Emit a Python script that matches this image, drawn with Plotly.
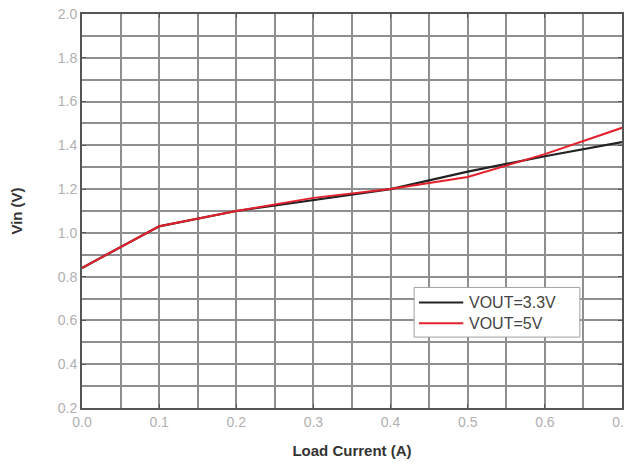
import plotly.graph_objects as go

load_current = [0.0, 0.1, 0.2, 0.3, 0.4, 0.5, 0.6, 0.7]
vin_3v3 = [0.84, 1.03, 1.10, 1.15, 1.20, 1.28, 1.35, 1.415]
vin_5v = [0.84, 1.03, 1.10, 1.16, 1.20, 1.255, 1.36, 1.48]
series_names = ["VOUT=3.3V", "VOUT=5V"]
series_colors = ["#222222", "#e3202c"]
x_ticks = [0.0, 0.1, 0.2, 0.3, 0.4, 0.5, 0.6, 0.7]
y_ticks = [0.2, 0.4, 0.6, 0.8, 1.0, 1.2, 1.4, 1.6, 1.8, 2.0]

fig = go.Figure()
for ys, name, col, w in zip([vin_3v3, vin_5v], series_names, series_colors, [2.2, 2.0]):
    fig.add_trace(go.Scatter(x=load_current, y=ys, mode="lines", name=name,
                             line=dict(color=col, width=w), showlegend=False))

# manual legend (box, sample lines, labels) in paper coordinates
fig.add_shape(type="rect", xref="paper", yref="paper", x0=0.615, x1=0.922, y0=0.180, y1=0.306,
              line=dict(color="#a0a0a0", width=1), fillcolor="white", layer="above")
row_y = [0.268, 0.215]
for name, col, ry in zip(series_names, series_colors, row_y):
    fig.add_shape(type="line", xref="paper", yref="paper", x0=0.624, x1=0.706, y0=ry, y1=ry,
                  line=dict(color=col, width=2), layer="above")
    fig.add_annotation(xref="paper", yref="paper", x=0.713, y=ry, text=name, showarrow=False,
                       xanchor="left", yanchor="middle",
                       font=dict(size=16, color="#444444"))

grid = "#8f8f8f"
# page body has an 8px default margin, so the figure is sized to fit the 632x468 window
fig.update_layout(
    width=624, height=452,
    margin=dict(l=74, r=10, t=6, b=52),
    paper_bgcolor="white", plot_bgcolor="white",
    font=dict(family="Liberation Sans, Arial, sans-serif"),
    showlegend=False,
    xaxis=dict(range=[0, 0.7], tickvals=x_ticks, ticktext=[f"{v:.1f}" for v in x_ticks],
               tickfont=dict(size=14, color="#b0b0b0"),
               automargin=False, ticklabeloverflow="allow",
               showgrid=True, gridcolor=grid, gridwidth=2,
               minor=dict(dtick=0.05, tick0=0, showgrid=True, gridcolor=grid, gridwidth=2),
               showline=True, linecolor="#555555", linewidth=2, mirror="ticks",
               ticks="inside", ticklen=4, tickcolor="#555555",
               zeroline=False,
               title=dict(text="<b>Load Current (A)</b>", font=dict(size=15, color="#333333"), standoff=17)),
    yaxis=dict(range=[0.2, 2.0], tickvals=y_ticks, ticktext=[f"{v:.1f}" for v in y_ticks],
               tickfont=dict(size=14, color="#b0b0b0"),
               automargin=False, ticklabeloverflow="allow",
               showgrid=True, gridcolor=grid, gridwidth=2,
               minor=dict(dtick=0.1, tick0=0.2, showgrid=True, gridcolor=grid, gridwidth=2),
               showline=True, linecolor="#555555", linewidth=2, mirror="ticks",
               ticks="inside", ticklen=4, tickcolor="#555555",
               zeroline=False,
               title=dict(text="<b>Vin (V)</b>", font=dict(size=15, color="#333333"), standoff=42)),
)

fig.write_html("out.html")
